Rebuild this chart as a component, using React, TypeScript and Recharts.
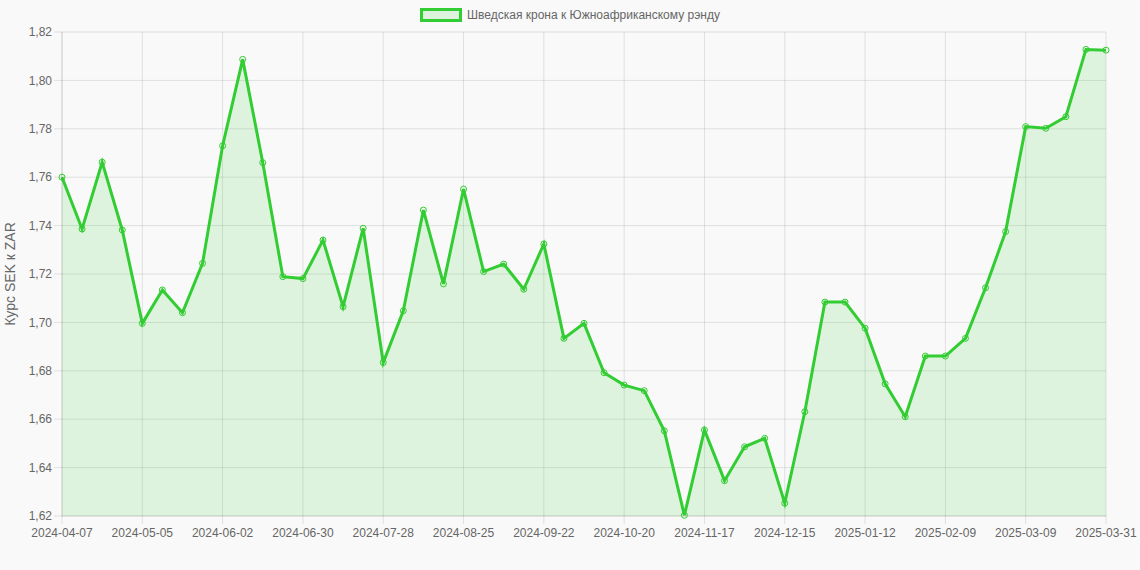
import React from 'react';
import { AreaChart, Area, XAxis, YAxis, CartesianGrid, Legend } from 'recharts';

const dates = [
  '2024-04-07', '2024-04-14', '2024-04-21', '2024-04-28', '2024-05-05', '2024-05-12', '2024-05-19', '2024-05-26',
  '2024-06-02', '2024-06-09', '2024-06-16', '2024-06-23', '2024-06-30', '2024-07-07', '2024-07-14', '2024-07-21',
  '2024-07-28', '2024-08-04', '2024-08-11', '2024-08-18', '2024-08-25', '2024-09-01', '2024-09-08', '2024-09-15',
  '2024-09-22', '2024-09-29', '2024-10-06', '2024-10-13', '2024-10-20', '2024-10-27', '2024-11-03', '2024-11-10',
  '2024-11-17', '2024-11-24', '2024-12-01', '2024-12-08', '2024-12-15', '2024-12-22', '2024-12-29', '2025-01-05',
  '2025-01-12', '2025-01-19', '2025-01-26', '2025-02-02', '2025-02-09', '2025-02-16', '2025-02-23', '2025-03-02',
  '2025-03-09', '2025-03-16', '2025-03-23', '2025-03-30', '2025-03-31',
];

const rates = [
  1.760, 1.7386, 1.7662, 1.7382, 1.6996, 1.7134, 1.7040, 1.7244,
  1.7730, 1.8087, 1.7660, 1.7189, 1.7181, 1.7340, 1.7065, 1.7389,
  1.6834, 1.7048, 1.7464, 1.7159, 1.7551, 1.7210, 1.7241, 1.7137,
  1.7324, 1.6934, 1.6996, 1.6792, 1.6741, 1.6718, 1.6552, 1.6203,
  1.6555, 1.6346, 1.6486, 1.6521, 1.6253, 1.6631, 1.7084, 1.7084,
  1.6976, 1.6746, 1.6610, 1.6861, 1.6861, 1.6934, 1.7143, 1.7375,
  1.7809, 1.7802, 1.7850, 1.8128, 1.8125,
];

const xTicks = [
  '2024-04-07', '2024-05-05', '2024-06-02', '2024-06-30', '2024-07-28', '2024-08-25', '2024-09-22',
  '2024-10-20', '2024-11-17', '2024-12-15', '2025-01-12', '2025-02-09', '2025-03-09', '2025-03-31',
];

const yTicks = [1.62, 1.64, 1.66, 1.68, 1.7, 1.72, 1.74, 1.76, 1.78, 1.8, 1.82];

const seriesName = 'Шведская крона к Южноафриканскому рэнду';
const yTitle = 'Курс SEK к ZAR';

const data = dates.map((d, i) => ({ date: d, rate: rates[i] }));

const LINE = '#32cd32';
const FILL = 'rgba(50,205,50,0.13)';
const GRID = 'rgba(0,0,0,0.1)';
const TEXT = '#666';
const FONT = 'Helvetica, Arial, "Liberation Sans", sans-serif';

const LegendContent = () => (
  <div
    style={{
      display: 'flex',
      justifyContent: 'center',
      alignItems: 'center',
      height: 22,
      fontFamily: FONT,
      fontSize: 12,
      color: TEXT,
    }}
  >
    <span
      style={{
        display: 'inline-block',
        width: 42,
        height: 14,
        boxSizing: 'border-box',
        border: `3px solid ${LINE}`,
        background: FILL,
        marginRight: 5,
      }}
    />
    <span>{seriesName}</span>
  </div>
);

const YTitle = (props: any) => {
  const vb = props.viewBox || { x: 0, y: 32, width: 62, height: 484 };
  const cx = vb.x + 10;
  const cy = vb.y + vb.height / 2;
  return (
    <text
      x={cx}
      y={cy}
      transform={`rotate(-90, ${cx}, ${cy})`}
      textAnchor="middle"
      dominantBaseline="central"
      fontSize={14}
      fill={TEXT}
      fontFamily={FONT}
    >
      {yTitle}
    </text>
  );
};

const fmt = (v: number) => v.toFixed(2).replace('.', ',');

export default function App() {
  return (
    <div style={{ position: 'absolute', left: 0, top: 0, width: 1140, height: 570, background: '#f9f9f9' }}>
      <AreaChart
        width={1140}
        height={570}
        data={data}
        margin={{ top: 10, right: 34, bottom: 24, left: 0 }}
      >
        <CartesianGrid stroke={GRID} />
        <XAxis
          dataKey="date"
          ticks={xTicks}
          interval={0}
          tickSize={8}
          tickMargin={4}
          height={30}
          tick={{ fontSize: 12, fill: TEXT, fontFamily: FONT }}
          tickLine={{ stroke: GRID }}
          axisLine={{ stroke: GRID }}
        />
        <YAxis
          type="number"
          domain={[1.62, 1.82]}
          ticks={yTicks}
          interval={0}
          width={62}
          tickSize={8}
          tickMargin={2}
          tickFormatter={fmt}
          tick={{ fontSize: 12, fill: TEXT, fontFamily: FONT }}
          tickLine={{ stroke: GRID }}
          axisLine={{ stroke: GRID }}
          label={{ content: YTitle }}
        />
        <Legend verticalAlign="top" align="center" content={LegendContent} wrapperStyle={{ top: 4, left: 0, width: 1140 }} />
        <Area
          type="linear"
          dataKey="rate"
          name={seriesName}
          stroke={LINE}
          strokeWidth={3}
          fill={LINE}
          fillOpacity={0.13}
          dot={{ r: 3, fill: FILL, stroke: LINE, strokeWidth: 1 }}
          activeDot={false}
          isAnimationActive={false}
        />
      </AreaChart>
    </div>
  );
}
